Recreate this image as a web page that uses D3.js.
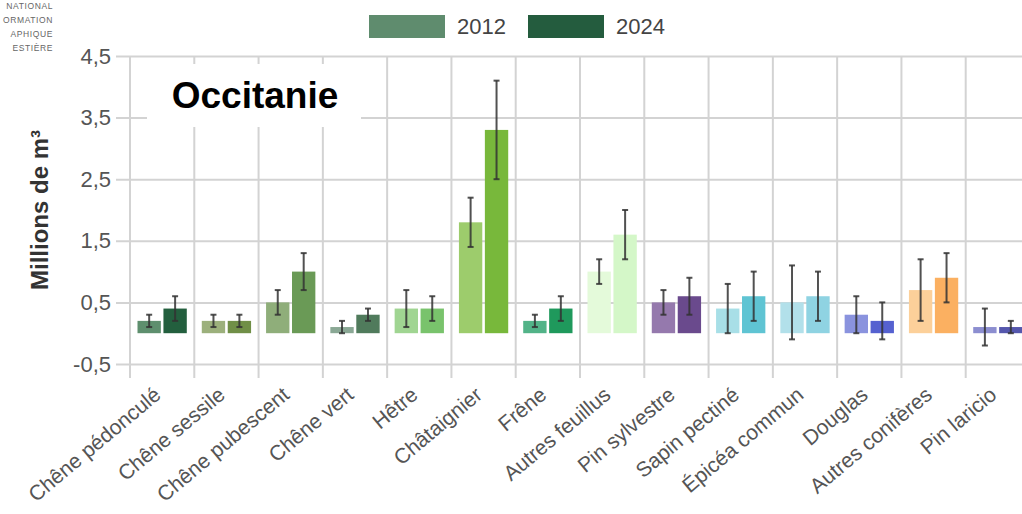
<!DOCTYPE html>
<html>
<head>
<meta charset="utf-8">
<script src="https://cdn.jsdelivr.net/npm/d3@7"></script>
<style>
  html, body { margin: 0; padding: 0; background: #fff; }
  svg { display: block; font-family: "Liberation Sans", Arial, sans-serif; }
</style>
</head>
<body>
<svg id="chart" width="1022" height="514"></svg>
<script>
// Species harvested volume, Occitanie (millions of m³), with uncertainty
const categories = [
  "Chêne pédonculé", "Chêne sessile", "Chêne pubescent", "Chêne vert", "Hêtre",
  "Châtaignier", "Frêne", "Autres feuillus", "Pin sylvestre", "Sapin pectiné",
  "Épicéa commun", "Douglas", "Autres conifères", "Pin laricio"
];
const years = ["2012", "2024"];
const values2012 = [0.2, 0.2, 0.5, 0.1, 0.4, 1.8, 0.2, 1.0, 0.5, 0.4, 0.5, 0.3, 0.7, 0.1];
const values2024 = [0.4, 0.2, 1.0, 0.3, 0.4, 3.3, 0.4, 1.6, 0.6, 0.6, 0.6, 0.2, 0.9, 0.1];
const errors2012 = [0.1, 0.1, 0.2, 0.1, 0.3, 0.4, 0.1, 0.2, 0.2, 0.4, 0.6, 0.3, 0.5, 0.3];
const errors2024 = [0.2, 0.1, 0.3, 0.1, 0.2, 0.8, 0.2, 0.4, 0.3, 0.4, 0.4, 0.3, 0.4, 0.1];
const colors2012 = ["#5e8f6e", "#9cb07c", "#8fae7a", "#8aa895", "#a0d592", "#9dcc6c", "#52b388",
                    "#e4fada", "#9579ad", "#a8dfe7", "#b2e0ea", "#8a93de", "#fcd09a", "#8c8ed0"];
const colors2024 = ["#235f3e", "#708f47", "#6a9a56", "#507b5c", "#79c36c", "#78b83b", "#1f995c",
                    "#d4f7c8", "#6a4a8d", "#5fc4d3", "#8fd3e2", "#5561d0", "#fbb061", "#5557ad"];
const legendColors = ["#5f8c6e", "#245c3e"];
const yTicks = [-0.5, 0.5, 1.5, 2.5, 3.5, 4.5];
const logoLines = ["NATIONAL", "ORMATION", "APHIQUE", "ESTIÈRE"];

const svg = d3.select("#chart");
const plot = { left: 130, right: 1030, top: 56, bottom: 364 };

const x = d3.scaleBand().domain(categories).range([plot.left, plot.right]).padding(0);
const xs = d3.scaleBand().domain(years).range([7.5, x.bandwidth() - 7.5]).paddingInner(0.1);
const y = d3.scaleLinear().domain([-0.5, 4.5]).range([plot.bottom, plot.top]);

const gridColor = "#d3d3d3";
const fmt = v => v.toFixed(1).replace(".", ",");

// Horizontal gridlines with left ticks
const yAxis = d3.axisLeft(y).tickValues(yTicks)
  .tickSize(-(plot.right - plot.left)).tickSizeOuter(0).tickPadding(20).tickFormat(fmt);
const gy = svg.append("g").attr("transform", `translate(${plot.left},0)`).call(yAxis);
gy.select(".domain").remove();
gy.selectAll(".tick line").attr("x1", -14).attr("stroke", gridColor).attr("stroke-width", 2);
gy.selectAll(".tick text").attr("fill", "#555").attr("font-size", 22).attr("x", -19);

// Vertical gridlines at band boundaries, extending below the plot as ticks
const bounds = categories.map(c => x(c)).concat([plot.right]);
svg.append("g").selectAll("line").data(bounds).join("line")
  .attr("x1", d => d).attr("x2", d => d)
  .attr("y1", plot.top).attr("y2", plot.bottom + 14)
  .attr("stroke", gridColor).attr("stroke-width", 2);

// Region title on a white panel
svg.append("rect").attr("x", 147).attr("y", 64).attr("width", 214).attr("height", 63).attr("fill", "#fff");
svg.append("text").attr("x", 255).attr("y", 108).attr("text-anchor", "middle")
  .attr("font-size", 37).attr("font-weight", "bold").attr("fill", "#000").text("Occitanie");

// Bars and error bars
const rows = categories.map((c, i) => [
  { cat: c, year: "2012", v: values2012[i], e: errors2012[i], color: colors2012[i] },
  { cat: c, year: "2024", v: values2024[i], e: errors2024[i], color: colors2024[i] }
]).flat();

const bars = svg.append("g");
bars.selectAll("rect").data(rows).join("rect")
  .attr("x", d => x(d.cat) + xs(d.year))
  .attr("width", xs.bandwidth())
  .attr("y", d => y(Math.max(0, d.v)))
  .attr("height", d => Math.abs(y(d.v) - y(0)))
  .attr("fill", d => d.color);

const err = svg.append("g").attr("stroke", "#333").attr("stroke-opacity", 0.85).attr("stroke-width", 2);
rows.forEach(d => {
  const cx = x(d.cat) + xs(d.year) + xs.bandwidth() / 2;
  const y1 = y(d.v + d.e), y2 = y(d.v - d.e);
  err.append("line").attr("x1", cx).attr("x2", cx).attr("y1", y1).attr("y2", y2);
  err.append("line").attr("x1", cx - 3).attr("x2", cx + 3).attr("y1", y1).attr("y2", y1);
  err.append("line").attr("x1", cx - 3).attr("x2", cx + 3).attr("y1", y2).attr("y2", y2);
});

// Category labels
svg.append("g").selectAll("text").data(categories).join("text")
  .attr("transform", d => `translate(${x(d) + x.bandwidth() / 2},397) rotate(-40)`)
  .attr("text-anchor", "end")
  .attr("font-size", 21).attr("fill", "#555").text(d => d);

// Y axis title
svg.append("text").attr("transform", "translate(48,210) rotate(-90)")
  .attr("text-anchor", "middle").attr("font-size", 24).attr("font-weight", "bold").attr("fill", "#333")
  .text("Millions de m³");

// Legend
const legend = svg.append("g");
const legendX = [369, 528];
years.forEach((yr, i) => {
  legend.append("rect").attr("x", legendX[i]).attr("y", 15).attr("width", 76).attr("height", 23)
    .attr("fill", legendColors[i]);
  legend.append("text").attr("x", legendX[i] + 88).attr("y", 34)
    .attr("font-size", 22).attr("fill", "#444").text(yr);
});

// Publisher mark in the corner
svg.append("g").selectAll("text").data(logoLines).join("text")
  .attr("x", 53).attr("y", (d, i) => 9 + i * 14)
  .attr("text-anchor", "end").attr("font-size", 8.5).attr("letter-spacing", 0.6)
  .attr("fill", "#666").text(d => d);
</script>
</body>
</html>
